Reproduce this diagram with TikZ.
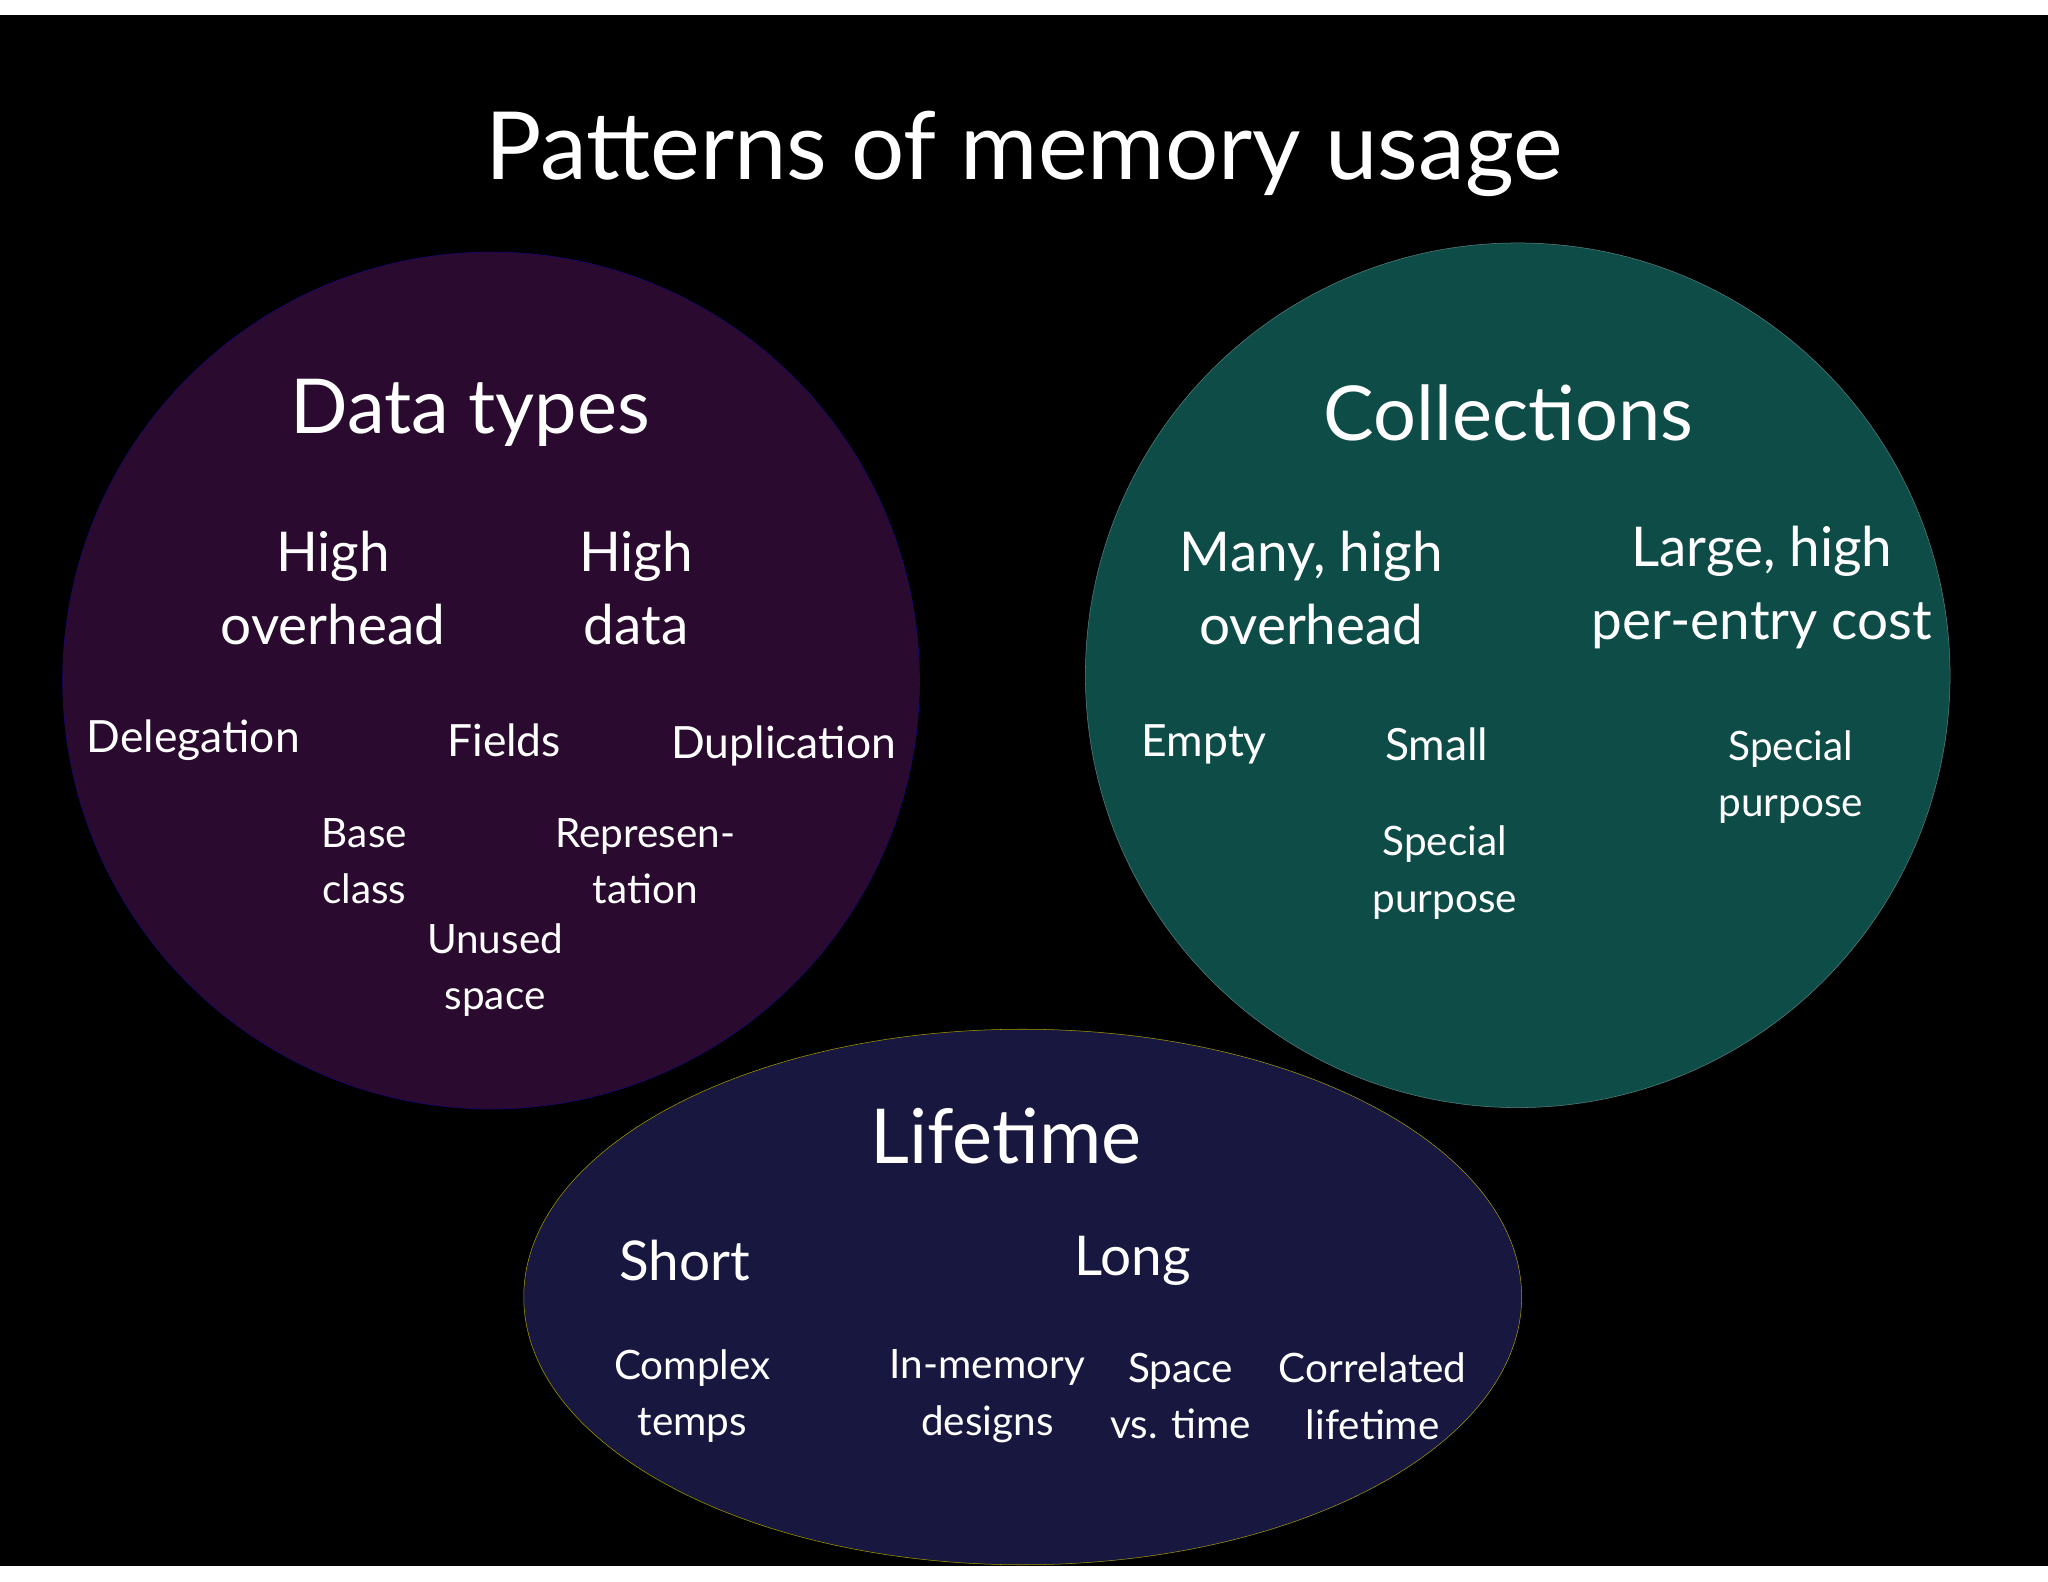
\documentclass[tikz,border=0pt]{standalone}
\usepackage{fontspec}
\setmainfont{Lato}
\begin{document}
\begin{tikzpicture}[x=1pt,y=-1pt,
 t/.style={text=white,align=center,inner sep=0pt},
 title/.style={t,font=\fontsize{72}{80}\selectfont},
 head/.style={t,font=\fontsize{58}{66}\selectfont},
 sub/.style={t,font=\fontsize{42}{56}\selectfont},
 item/.style={t,font=\fontsize{34}{44}\selectfont},
 small/.style={t,font=\fontsize{31}{43}\selectfont}]
\useasboundingbox (0,0) rectangle (1568,1211);
\fill[white] (0,0) rectangle (1568,1211);
\fill[black] (0,11.5) rectangle (1568,1199);
\definecolor{pur}{HTML}{2A0A2E}\definecolor{tea}{HTML}{0E4C48}\definecolor{nav}{HTML}{17173F}
\filldraw[fill=pur,draw=pur!60!blue] (376,521) circle (328);
\filldraw[fill=tea,draw=tea!70!white] (1162,517) circle (331);
\filldraw[fill=nav,draw=olive!80!yellow] (783,993) ellipse (382 and 205);
\node[title] (ti) at (784,118) {Patterns of memory usage};
\node[head] (dt) at (360,316) {Data types};
\node[head] (co) at (1155,316) {Collections};
\node[head] (lt) at (770,870) {Lifetime};
\node[sub] (ho) at (255,450) {High\\overhead};
\node[sub] (hd) at (487,450) {High\\data};
\node[item] (de) at (148,567) {Delegation};
\node[item] (fi) at (386,567) {Fields};
\node[item] (du) at (600,571) {Duplication};
\node[small] (bc) at (279,659) {Base\\class};
\node[small] (re) at (494,659) {Represen-\\tation};
\node[small] (un) at (379,743) {Unused\\space};
\node[sub] (mh) at (1004,450) {Many, high\\overhead};
\node[sub] (lh) at (1349,450) {Large, high\\per-entry cost};
\node[item] (em) at (922,570) {Empty};
\node[item] (sm) at (1100,570) {Small};
\node[small] (sp1) at (1106,668) {Special\\purpose};
\node[small] (sp2) at (1371,595) {Special\\purpose};
\node[sub] (sh) at (524,965) {Short};
\node[sub] (lo) at (867,965) {Long};
\node[small] (ct) at (530,1069) {Complex\\temps};
\node[small] (im) at (756,1069) {In-memory\\designs};
\node[small] (sv) at (904,1069) {Space\\vs. time};
\node[small] (cl) at (1051,1069) {Correlated\\lifetime};
\end{tikzpicture}
\end{document}
